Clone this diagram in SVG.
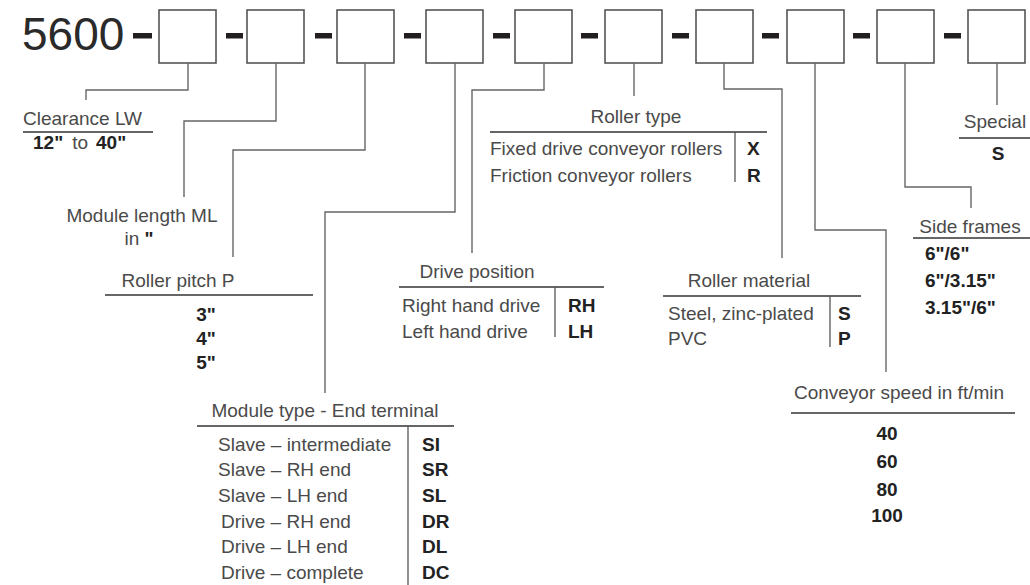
<svg xmlns="http://www.w3.org/2000/svg" width="1030" height="585" viewBox="0 0 1030 585">
<style>
text{font-family:"Liberation Sans",Arial,sans-serif;font-size:19px;fill:#4a4a4a}
.b{font-weight:bold;fill:#222}
.m{text-anchor:middle}
.box{fill:#fff;stroke:#555;stroke-width:1.6}
.dash{fill:#231f20}
.c{fill:none;stroke:#666;stroke-width:1.4}
.u{stroke:#333;stroke-width:1.3}
.d{stroke:#555;stroke-width:1.3}
</style>
<rect width="1030" height="585" fill="#fff"/>
<g id="code">
<text x="22" y="50" style="font-size:46px;fill:#2a2a2a">5600</text>
<rect class="dash" x="133" y="33" width="19" height="5.5"/>
<rect class="box" x="159" y="10" width="57" height="53"/>
<rect class="dash" x="226" y="33" width="17" height="5.5"/>
<rect class="box" x="247" y="10" width="57" height="53"/>
<rect class="dash" x="315" y="33" width="17" height="5.5"/>
<rect class="box" x="337" y="10" width="57" height="53"/>
<rect class="dash" x="404" y="33" width="17" height="5.5"/>
<rect class="box" x="426" y="10" width="57" height="53"/>
<rect class="dash" x="493" y="33" width="17" height="5.5"/>
<rect class="box" x="515" y="10" width="57" height="53"/>
<rect class="dash" x="581" y="33" width="17" height="5.5"/>
<rect class="box" x="605" y="10" width="57" height="53"/>
<rect class="dash" x="672" y="33" width="17" height="5.5"/>
<rect class="box" x="696" y="10" width="57" height="53"/>
<rect class="dash" x="762" y="33" width="17" height="5.5"/>
<rect class="box" x="787" y="10" width="57" height="53"/>
<rect class="dash" x="853" y="33" width="17" height="5.5"/>
<rect class="box" x="877" y="10" width="57" height="53"/>
<rect class="dash" x="944" y="33" width="17" height="5.5"/>
<rect class="box" x="968" y="10" width="57" height="53"/>
</g>
<g id="connectors">
<path class="c" d="M188 63V90H86V100"/>
<path class="c" d="M276 63V121H184V197"/>
<path class="c" d="M365 63V150H233V257"/>
<path class="c" d="M455 63V212H325V393"/>
<path class="c" d="M544 63V90H472V253"/>
<path class="c" d="M634 63V96"/>
<path class="c" d="M724 63V89H782V258"/>
<path class="c" d="M815 63V230H886V372"/>
<path class="c" d="M905 63V187H971V208"/>
<path class="c" d="M997 63V105"/>
</g>
<g id="clearance">
<text x="23" y="125">Clearance LW</text>
<line class="u" x1="23" y1="132" x2="153" y2="132"/>
<text y="149"><tspan class="b" x="33">12"</tspan><tspan x="67"> to</tspan><tspan class="b" x="96">40"</tspan></text>
</g>
<g id="module-length">
<text class="m" x="142" y="222">Module length ML</text>
<text class="m" x="139" y="245">in <tspan class="b">"</tspan></text>
</g>
<g id="roller-pitch">
<text class="m" x="178" y="287">Roller pitch P</text>
<line class="u" x1="105" y1="295" x2="313" y2="295"/>
<text class="m b" x="206" y="321">3"</text>
<text class="m b" x="206" y="345">4"</text>
<text class="m b" x="206" y="369">5"</text>
</g>
<g id="module-type">
<text class="m" x="325" y="417">Module type - End terminal</text>
<line class="u" x1="197" y1="426" x2="454" y2="426"/>
<line class="d" x1="408" y1="426" x2="408" y2="585"/>
<text x="218" y="451">Slave – intermediate</text>
<text x="218" y="476">Slave – RH end</text>
<text x="218" y="502">Slave – LH end</text>
<text x="221" y="528">Drive – RH end</text>
<text x="221" y="553">Drive – LH end</text>
<text x="221" y="579">Drive – complete</text>
<text class="b" x="422" y="451">SI</text>
<text class="b" x="422" y="476">SR</text>
<text class="b" x="422" y="502">SL</text>
<text class="b" x="422" y="528">DR</text>
<text class="b" x="422" y="553">DL</text>
<text class="b" x="422" y="579">DC</text>
</g>
<g id="drive-position">
<text class="m" x="477" y="278">Drive position</text>
<line class="u" x1="399" y1="287" x2="604" y2="287"/>
<line class="d" x1="555" y1="287" x2="555" y2="337"/>
<text x="402" y="312">Right hand drive</text>
<text x="402" y="338">Left hand drive</text>
<text class="b" x="568" y="312">RH</text>
<text class="b" x="568" y="338">LH</text>
</g>
<g id="roller-type">
<text class="m" x="636" y="123">Roller type</text>
<line class="u" x1="490" y1="132" x2="767" y2="132"/>
<line class="d" x1="735" y1="132" x2="735" y2="182"/>
<text x="490" y="155">Fixed drive conveyor rollers</text>
<text x="490" y="182">Friction conveyor rollers</text>
<text class="b" x="747" y="155">X</text>
<text class="b" x="747" y="182">R</text>
</g>
<g id="roller-material">
<text class="m" x="749" y="287">Roller material</text>
<line class="u" x1="663" y1="296" x2="861" y2="296"/>
<line class="d" x1="830" y1="296" x2="830" y2="347"/>
<text x="668" y="320">Steel, zinc-plated</text>
<text x="668" y="345">PVC</text>
<text class="b" x="838" y="320">S</text>
<text class="b" x="838" y="345">P</text>
</g>
<g id="conveyor-speed">
<text class="m" x="899" y="399">Conveyor speed in ft/min</text>
<line class="u" x1="791" y1="413" x2="1015" y2="413"/>
<text class="m b" x="887" y="440">40</text>
<text class="m b" x="887" y="468">60</text>
<text class="m b" x="887" y="496">80</text>
<text class="m b" x="887" y="522">100</text>
</g>
<g id="side-frames">
<text class="m" x="970" y="233">Side frames</text>
<line class="u" x1="913" y1="238" x2="1030" y2="238"/>
<text class="b" x="925" y="260">6"/6"</text>
<text class="b" x="925" y="287">6"/3.15"</text>
<text class="b" x="925" y="314">3.15"/6"</text>
</g>
<g id="special">
<text class="m" x="995" y="128">Special</text>
<line class="u" x1="959" y1="138" x2="1030" y2="138"/>
<text class="m b" x="998" y="160">S</text>
</g>
</svg>
